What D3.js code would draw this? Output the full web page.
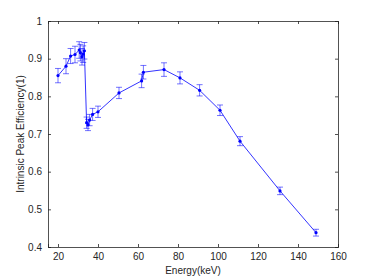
<!DOCTYPE html>
<html>
<head>
<meta charset="utf-8">
<script src="https://cdn.jsdelivr.net/npm/d3@7"></script>
<style>
body{margin:0;background:#fff;}
text{font-family:"Liberation Sans",Arial,Helvetica,sans-serif;}
</style>
</head>
<body>
<svg id="chart" width="374" height="280"></svg>
<script>
// energy (keV), efficiency and its error
var energy = [20, 24, 26.3, 28.5, 30.6, 31.2, 32, 32.6, 33.2, 34.3, 35, 35.8, 37.3, 40, 50.5, 61.8, 62.7, 73, 81, 90.8, 101, 111, 131, 149];
var effic  = [0.855, 0.880, 0.907, 0.911, 0.923, 0.916, 0.905, 0.912, 0.921, 0.730, 0.724, 0.737, 0.752, 0.759, 0.809, 0.841, 0.864, 0.871, 0.849, 0.816, 0.763, 0.681, 0.549, 0.438];
var errs   = [0.019, 0.02, 0.02, 0.022, 0.022, 0.022, 0.022, 0.022, 0.022, 0.015, 0.015, 0.015, 0.016, 0.015, 0.015, 0.018, 0.018, 0.018, 0.016, 0.015, 0.014, 0.012, 0.01, 0.009];
var xTicks = [20, 40, 60, 80, 100, 120, 140, 160];
var yTicks = [0.4, 0.5, 0.6, 0.7, 0.8, 0.9, 1];

var svg = d3.select('#chart');
var m = {l:48, r:36, t:21, b:33};
var W = 374, H = 280;

var x = d3.scaleLinear().domain([15, 160]).range([m.l, W - m.r]);
var y = d3.scaleLinear().domain([0.4, 1]).range([H - m.b, m.t]);

var axCol = '#262626';

// axes (ticks inside, MATLAB style)
var gx = svg.append('g').attr('transform', 'translate(0,' + (H - m.b) + ')')
	.call(d3.axisBottom(x).tickValues(xTicks).tickSize(-3).tickPadding(6).tickFormat(d3.format('d')));
var gy = svg.append('g').attr('transform', 'translate(' + m.l + ',0)')
	.call(d3.axisLeft(y).tickValues(yTicks).tickSize(-3).tickPadding(6).tickFormat(function(d){ return d === 1 ? '1' : d3.format('.1f')(d); }));
var gx2 = svg.append('g').attr('transform', 'translate(0,' + m.t + ')')
	.call(d3.axisTop(x).tickValues(xTicks).tickSize(-3).tickFormat(''));
var gy2 = svg.append('g').attr('transform', 'translate(' + (W - m.r) + ',0)')
	.call(d3.axisRight(y).tickValues(yTicks).tickSize(-3).tickFormat(''));

[gx, gy, gx2, gy2].forEach(function (g) {
	g.selectAll('path').attr('stroke', axCol).attr('stroke-width', 0.8);
	g.selectAll('line').attr('stroke', axCol).attr('stroke-width', 0.8);
	g.selectAll('text').attr('fill', axCol).style('font-size', '10px');
});

// labels
svg.append('text').attr('x', (m.l + W - m.r) / 2).attr('y', 274)
	.attr('text-anchor', 'middle').attr('fill', axCol).style('font-size', '10px').text('Energy(keV)');
svg.append('text').attr('transform', 'translate(24,' + ((m.t + H - m.b) / 2) + ') rotate(-90)')
	.attr('text-anchor', 'middle').attr('fill', axCol).style('font-size', '10px').text('Intrinsic Peak Efficiency(1)');

var data = energy.map(function (e, i) { return {e: e, v: effic[i], s: errs[i]}; });

// error bars
var eb = svg.append('g').attr('stroke', '#0000ff').attr('stroke-opacity', 0.55).attr('stroke-width', 1);
data.forEach(function (d) {
	var cx = x(d.e), y1 = y(d.v + d.s), y2 = y(d.v - d.s);
	eb.append('line').attr('x1', cx).attr('x2', cx).attr('y1', y1).attr('y2', y2);
	eb.append('line').attr('x1', cx - 3).attr('x2', cx + 3).attr('y1', y1).attr('y2', y1);
	eb.append('line').attr('x1', cx - 3).attr('x2', cx + 3).attr('y1', y2).attr('y2', y2);
});

// line + markers
svg.append('path').datum(data)
	.attr('fill', 'none').attr('stroke', '#0000ff').attr('stroke-width', 0.8)
	.attr('d', d3.line().x(function (d) { return x(d.e); }).y(function (d) { return y(d.v); }));

svg.append('g').selectAll('circle').data(data).join('circle')
	.attr('cx', function (d) { return x(d.e); })
	.attr('cy', function (d) { return y(d.v); })
	.attr('r', 1.6).attr('fill', '#0000ff');
</script>
</body>
</html>
